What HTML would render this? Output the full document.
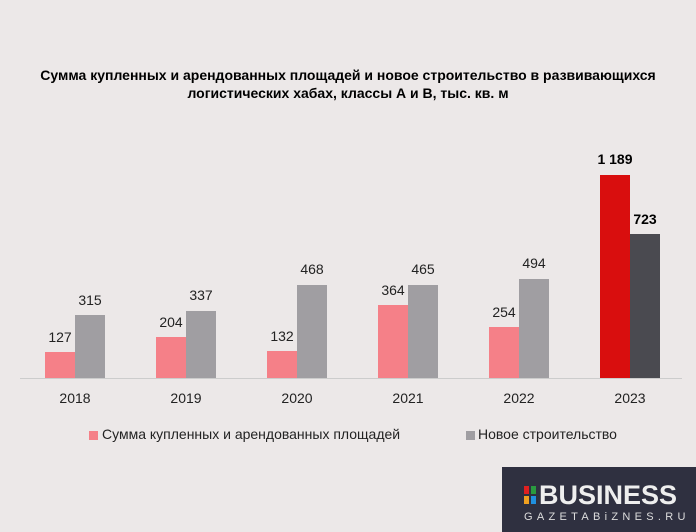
<!DOCTYPE html>
<html><head><meta charset="utf-8"><style>
body{margin:0;width:696px;height:532px;background:#ece8e8;font-family:"Liberation Sans",sans-serif;position:relative;overflow:hidden}
.t{position:absolute;left:0;width:696px;text-align:center;font-weight:bold;font-size:14px;color:#000;line-height:18px}
.b{position:absolute;width:30px}
.p{background:#f58088}.g{background:#a09ea2}
.l{position:absolute;width:60px;text-align:center;font-size:14px;color:#222}
.y{position:absolute;width:80px;text-align:center;font-size:14px;color:#222;top:390px}
</style></head><body>
<div class="t" style="top:66px">Сумма купленных и арендованных площадей и новое строительство в развивающихся<br>логистических хабах, классы А и В, тыс. кв. м</div>
<div style="position:absolute;left:20px;top:378px;width:662px;height:1px;background:#ccc"></div>

<div class="b p" style="left:45px;top:352px;height:26px"></div><div class="b g" style="left:75px;top:315px;height:63px"></div>
<div class="l" style="left:30px;top:329px">127</div><div class="l" style="left:60px;top:292px">315</div><div class="y" style="left:35px">2018</div>

<div class="b p" style="left:156px;top:337px;height:41px"></div><div class="b g" style="left:186px;top:311px;height:67px"></div>
<div class="l" style="left:141px;top:314px">204</div><div class="l" style="left:171px;top:287px">337</div><div class="y" style="left:146px">2019</div>

<div class="b p" style="left:267px;top:351px;height:27px"></div><div class="b g" style="left:297px;top:285px;height:93px"></div>
<div class="l" style="left:252px;top:328px">132</div><div class="l" style="left:282px;top:261px">468</div><div class="y" style="left:257px">2020</div>

<div class="b p" style="left:378px;top:305px;height:73px"></div><div class="b g" style="left:408px;top:285px;height:93px"></div>
<div class="l" style="left:363px;top:282px">364</div><div class="l" style="left:393px;top:261px">465</div><div class="y" style="left:368px">2021</div>

<div class="b p" style="left:489px;top:327px;height:51px"></div><div class="b g" style="left:519px;top:279px;height:99px"></div>
<div class="l" style="left:474px;top:304px">254</div><div class="l" style="left:504px;top:255px">494</div><div class="y" style="left:479px">2022</div>

<div class="b" style="left:600px;top:175px;height:203px;background:#d90e0e"></div><div class="b" style="left:630px;top:234px;height:144px;background:#4a4a50"></div>
<div class="l" style="left:585px;top:151px;font-weight:bold;color:#000">1 189</div><div class="l" style="left:615px;top:211px;font-weight:bold;color:#000">723</div><div class="y" style="left:590px">2023</div>

<div style="position:absolute;left:89px;top:431px;width:9px;height:9px;background:#f58088"></div>
<div style="position:absolute;left:102px;top:426px;font-size:14px;color:#222">Сумма купленных и арендованных площадей</div>
<div style="position:absolute;left:466px;top:431px;width:9px;height:9px;background:#a09ea2"></div>
<div style="position:absolute;left:478px;top:426px;font-size:14px;color:#222">Новое строительство</div>

<div style="position:absolute;left:502px;top:467px;width:194px;height:65px;background:#2f3040">
<div style="position:absolute;left:22px;top:19px;width:5px;height:8px;background:#e02020"></div>
<div style="position:absolute;left:29px;top:19px;width:5px;height:8px;background:#2a9a40"></div>
<div style="position:absolute;left:22px;top:29px;width:5px;height:8px;background:#f0a020"></div>
<div style="position:absolute;left:29px;top:29px;width:5px;height:8px;background:#2090e0"></div>
<div style="position:absolute;left:37px;top:14px;font-size:27px;font-weight:bold;color:#eee;line-height:28px">BUSINESS</div>
<div style="position:absolute;left:22px;top:44px;font-size:11px;color:#ddd;letter-spacing:4.3px">GAZETABiZNES.RU</div>
</div>
</body></html>
